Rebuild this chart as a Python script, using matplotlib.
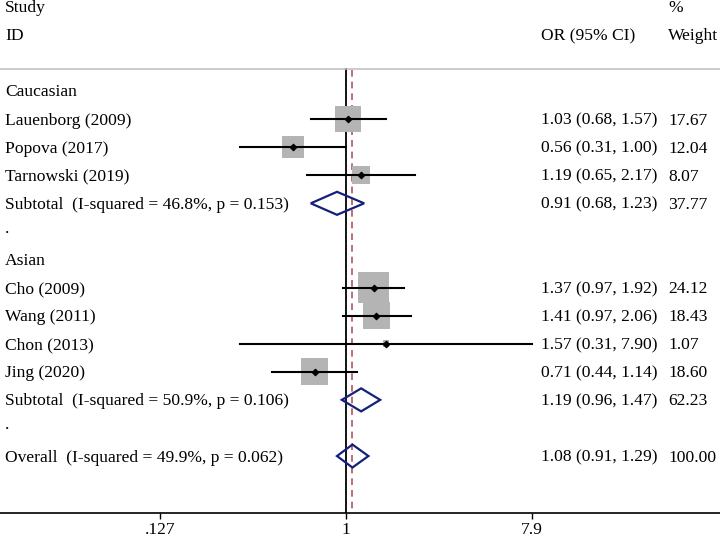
import numpy as np
import matplotlib
matplotlib.use("Agg")
import matplotlib.pyplot as plt
from matplotlib.patches import Polygon

plt.rcParams['font.family'] = ['Liberation Serif', 'DejaVu Serif']

# study level data
studies = ['Lauenborg (2009)', 'Popova (2017)', 'Tarnowski (2019)',
           'Cho (2009)', 'Wang (2011)', 'Chon (2013)', 'Jing (2020)']
groups = ['Caucasian', 'Caucasian', 'Caucasian',
          'Asian', 'Asian', 'Asian', 'Asian']
odds = [1.03, 0.56, 1.19, 1.37, 1.41, 1.57, 0.71]
lower = [0.68, 0.31, 0.65, 0.97, 0.97, 0.31, 0.44]
upper = [1.57, 1.00, 2.17, 1.92, 2.06, 7.90, 1.14]
weights = [17.67, 12.04, 8.07, 24.12, 18.43, 1.07, 18.60]

# pooled estimates
group_names = ['Caucasian', 'Asian']
sub_labels = ['Subtotal  (I-squared = 46.8%, p = 0.153)',
              'Subtotal  (I-squared = 50.9%, p = 0.106)']
sub_or = [0.91, 1.19]
sub_lo = [0.68, 0.96]
sub_hi = [1.23, 1.47]
sub_w = [37.77, 62.23]

overall_label = 'Overall  (I-squared = 49.9%, p = 0.062)'
overall = [1.08, 0.91, 1.29, 100.00]

tick_vals = [0.127, 1, 7.9]
tick_labels = ['.127', '1', '7.9']

NAVY = '#15207a'
GREY = '#b4b4b4'
FS = 12.6

fig = plt.figure(figsize=(7.2, 5.39), dpi=100)
ax = fig.add_axes([0, 26 / 539, 1, 513 / 539])
ax.set_xscale('log')
ax.set_xlim(np.exp(-345.5 / 90), np.exp((720 - 345.5) / 90))
ax.set_ylim(513, 0)

for s in ['top', 'left', 'right']:
    ax.spines[s].set_visible(False)
ax.spines['bottom'].set_linewidth(1.2)
ax.set_yticks([])
ax.set_xticks(tick_vals)
ax.set_xticklabels(tick_labels)
ax.minorticks_off()
ax.tick_params(axis='x', length=4.5, width=1, pad=2, labelsize=FS)

trans = ax.get_yaxis_transform()  # x in axes fraction, y in data
x_left, x_or, x_w = 5 / 720, 541 / 720, 668 / 720


def txt(x, y, s):
    ax.text(x, y + 5.5, s, transform=trans, fontsize=FS, va='baseline',
            ha='left')


def ci_text(o, lo, hi):
    return f'{o:.2f} ({lo:.2f}, {hi:.2f})'


def diamond(o, lo, hi, y, h=11.5):
    ax.add_patch(Polygon([(lo, y), (o, y - h), (hi, y), (o, y + h)],
                         closed=True, fill=False, edgecolor=NAVY, lw=1.6,
                         zorder=4))


# header
txt(x_left, 7, 'Study')
txt(x_left, 35, 'ID')
txt(x_or, 35, 'OR (95% CI)')
txt(x_w, 7, '%')
txt(x_w, 35, 'Weight')
ax.axhline(69, color='#bdbdbd', lw=1.1)

row_h = 28.08
y = 91
for g, gname in enumerate(group_names):
    txt(x_left, y, gname)
    y += row_h
    for i in range(len(studies)):
        if groups[i] != gname:
            continue
        side = 6.3 * np.sqrt(weights[i]) * 0.72
        ax.scatter([odds[i]], [y], marker='s', s=side ** 2, color=GREY,
                   edgecolors='none', zorder=2)
        ax.plot([lower[i], upper[i]], [y, y], color='black', lw=1.5, zorder=3)
        ax.scatter([odds[i]], [y], marker='D', s=10, color='black', zorder=4)
        txt(x_left, y, studies[i])
        txt(x_or, y, ci_text(odds[i], lower[i], upper[i]))
        txt(x_w, y, f'{weights[i]:.2f}')
        y += row_h
    diamond(sub_or[g], sub_lo[g], sub_hi[g], y)
    txt(x_left, y, sub_labels[g])
    txt(x_or, y, ci_text(sub_or[g], sub_lo[g], sub_hi[g]))
    txt(x_w, y, f'{sub_w[g]:.2f}')
    y += row_h
    txt(x_left, y - 4, '.')
    y += row_h

diamond(overall[0], overall[1], overall[2], y)
txt(x_left, y, overall_label)
txt(x_or, y, ci_text(overall[0], overall[1], overall[2]))
txt(x_w, y, f'{overall[3]:.2f}')

# reference lines
ax.plot([1, 1], [69, 513], color='black', lw=1.3, zorder=1)
ax.plot([overall[0], overall[0]], [70, 513], color='#b5545c', lw=1.2,
        linestyle=(0, (4, 3)), zorder=1)

fig.savefig('out.png', dpi=100)
